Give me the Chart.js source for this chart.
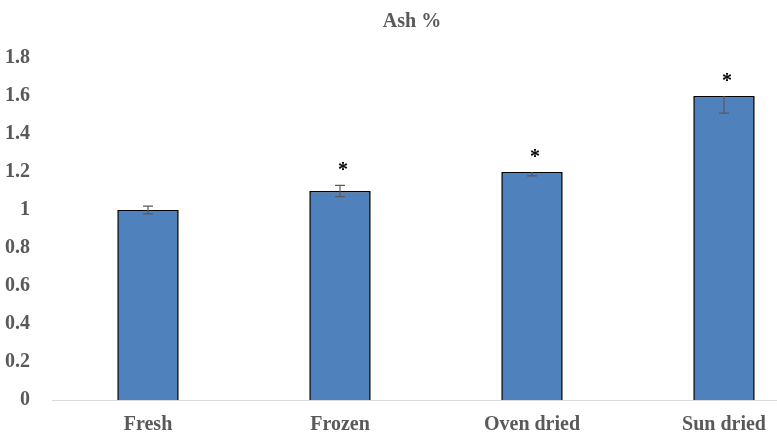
<!DOCTYPE html>
<html>
<head>
<meta charset="utf-8">
<script src="https://cdn.jsdelivr.net/npm/chart.js@4.4.1/dist/chart.umd.min.js"></script>
<style>
  html, body { margin: 0; padding: 0; background: #fff; overflow: hidden; }
  #wrap { width: 777px; height: 442px; overflow: hidden; }
  #box { width: 830px; height: 456px; }
</style>
</head>
<body>
<div id="wrap"><div id="box"><canvas id="ashChart"></canvas></div></div>
<script>
const categories = ['Fresh', 'Frozen', 'Oven dried', 'Sun dried'];
const ashValues = [1.0, 1.1, 1.2, 1.6];
const errPlus = [0.02, 0.03, 0, 0];
const errMinus = [0.02, 0.03, 0.02, 0.09];
const marks = ['', '*', '*', '*'];

const textColor = '#595959';
const fontFamily = '"Liberation Serif", "DejaVu Serif", serif';

const errorBars = {
    id: 'errorBars',
    afterDatasetsDraw(chart) {
        const ctx = chart.ctx;
        const y = chart.scales.y;
        const meta = chart.getDatasetMeta(0);
        ctx.save();
        ctx.strokeStyle = '#595959';
        ctx.lineWidth = 1.2;
        meta.data.forEach((bar, i) => {
            const top = y.getPixelForValue(ashValues[i] + errPlus[i]);
            const bot = y.getPixelForValue(ashValues[i] - errMinus[i]);
            ctx.beginPath();
            ctx.moveTo(bar.x, top);
            ctx.lineTo(bar.x, bot);
            if (errPlus[i] > 0) {
                ctx.moveTo(bar.x - 5, top);
                ctx.lineTo(bar.x + 5, top);
            }
            ctx.moveTo(bar.x - 5, bot);
            ctx.lineTo(bar.x + 5, bot);
            ctx.stroke();

            if (marks[i]) {
                ctx.fillStyle = '#000';
                ctx.font = 'bold 20px ' + fontFamily;
                ctx.textAlign = 'center';
                ctx.textBaseline = 'middle';
                ctx.fillText(marks[i], bar.x + 3, top - 14);
            }
        });
        ctx.restore();
    }
};

new Chart(document.getElementById('ashChart'), {
    type: 'bar',
    data: {
        labels: categories,
        datasets: [{
            label: 'Ash %',
            data: ashValues,
            backgroundColor: '#4F81BD',
            borderColor: '#000',
            borderWidth: 1.6,
            categoryPercentage: 1,
            barPercentage: 0.32
        }]
    },
    options: {
        responsive: true,
        maintainAspectRatio: false,
        animation: false,
        layout: { padding: { left: 4, right: 10, top: 4, bottom: 6 } },
        plugins: {
            legend: { display: false },
            tooltip: { enabled: false },
            title: {
                display: true,
                text: 'Ash %',
                color: textColor,
                font: { family: fontFamily, size: 20, weight: 'bold' },
                padding: { top: 6, bottom: 24 }
            }
        },
        scales: {
            x: {
                grid: { display: false, drawTicks: false },
                border: { color: '#d9d9d9', width: 1 },
                ticks: {
                    color: textColor,
                    padding: 13,
                    font: { family: fontFamily, size: 20, weight: 'bold' }
                }
            },
            y: {
                min: 0,
                max: 1.8,
                afterFit: (scale) => { scale.width = 48; },
                grid: { display: false, drawTicks: false },
                border: { display: false },
                ticks: {
                    stepSize: 0.2,
                    color: textColor,
                    padding: 22,
                    font: { family: fontFamily, size: 20, weight: 'bold' },
                    callback: (v) => Math.round(v * 10) / 10
                }
            }
        }
    },
    plugins: [errorBars]
});
</script>
</body>
</html>
